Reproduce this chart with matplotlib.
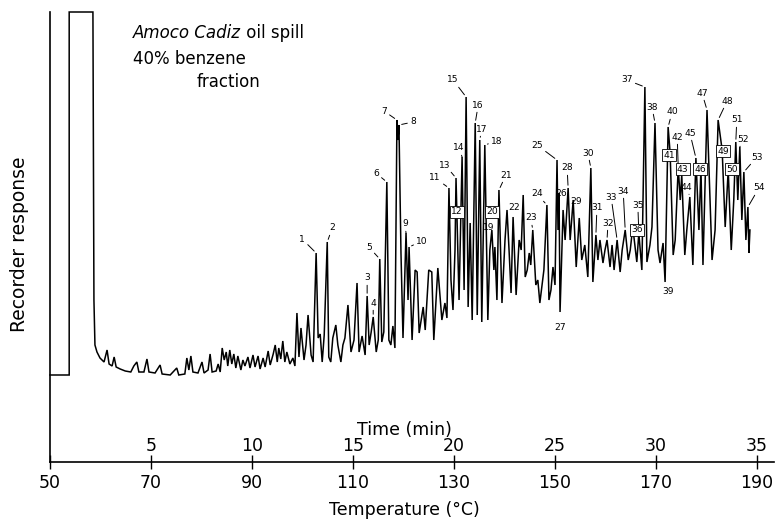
import matplotlib
matplotlib.use("Agg")
import matplotlib.pyplot as plt
from matplotlib.transforms import blended_transform_factory

# Gas chromatogram trace: oven temperature (deg C) and recorder response (arbitrary units)
temperature_c = [
    50.0, 53.8, 53.8, 58.3, 58.5, 58.7, 58.9, 59.3, 59.9, 60.7, 61.3, 61.7, 62.3, 62.7, 63.1,
    63.9, 64.9, 66.0, 66.6, 67.2, 67.6, 68.6, 69.2, 69.6, 70.8, 71.8, 72.2, 73.8, 75.1, 75.5,
    76.7, 77.1, 77.5, 77.9, 78.3, 79.3, 80.1, 80.5, 81.3, 81.7, 82.1, 82.9, 83.3, 83.7, 84.1,
    84.5, 84.9, 85.2, 85.6, 86.0, 86.4, 86.8, 87.2, 87.8, 88.2, 88.6, 89.2, 89.6, 90.2, 90.6,
    91.2, 91.6, 92.2, 92.6, 93.2, 93.6, 94.2, 94.6, 95.0, 95.3, 95.7, 96.1, 96.5, 96.9, 97.5,
    98.1, 98.5, 98.9, 99.3, 99.7, 100.3, 100.7, 101.1, 101.7, 102.1, 102.7, 103.1, 103.5, 103.9,
    104.3, 104.9, 105.2, 105.6, 106.0, 106.6, 107.0, 107.6, 108.0, 108.4, 109.0, 109.6, 110.2,
    110.8, 111.2, 111.8, 112.4, 112.8, 113.2, 113.6, 114.0, 114.6, 115.0, 115.3, 115.7, 116.1,
    116.7, 117.1, 117.5, 117.9, 118.3, 118.7, 118.9, 119.1, 119.5, 119.9, 120.5, 120.9, 121.1,
    121.7, 122.3, 122.7, 123.1, 123.9, 124.3, 125.0, 125.6, 126.0, 126.8, 127.6, 128.2, 128.6,
    129.0, 129.4, 129.8, 130.2, 130.4, 131.0, 131.6, 132.0, 132.4, 132.8, 133.2, 133.6, 134.2,
    134.6, 135.1, 135.5, 136.1, 136.7, 137.1, 137.5, 137.9, 138.1, 138.5, 138.9, 139.5, 140.1,
    140.5, 140.9, 141.3, 141.7, 142.3, 142.9, 143.3, 143.7, 144.1, 144.5, 144.9, 145.2, 145.6,
    146.2, 146.6, 147.0, 147.8, 148.4, 148.8, 149.2, 149.6, 150.0, 150.4, 150.6, 150.8, 151.0,
    151.6, 152.0, 152.6, 153.0, 153.6, 154.2, 154.8, 155.3, 155.9, 156.5, 157.1, 157.5, 158.1,
    158.5, 158.9, 159.5, 159.9, 160.3, 160.9, 161.3, 161.7, 162.3, 162.9, 163.3, 163.9, 164.5,
    164.9, 165.4, 166.2, 166.6, 167.2, 167.8, 168.2, 168.8, 169.2, 169.8, 170.4, 170.8, 171.4,
    171.8, 172.4, 172.8, 173.4, 173.8, 174.4, 174.8, 175.1, 175.7, 176.1, 176.7, 177.3, 177.9,
    178.5, 178.9, 179.3, 180.1, 181.1, 181.7, 182.3, 183.1, 183.7, 184.3, 184.9, 185.4, 185.8,
    186.2, 186.6, 187.0, 187.4, 187.8, 188.2, 188.4, 188.6,
]
response = [
    87, 87, 450, 450, 450, 162, 117, 110, 104, 100, 112, 98, 96, 105, 95,
    93, 91, 90, 96, 100, 90, 90, 103, 90, 89, 97, 88, 87, 94, 87,
    88, 104, 92, 106, 90, 89, 100, 89, 92, 108, 90, 91, 98, 90, 114,
    102, 110, 96, 112, 98, 108, 94, 106, 92, 102, 96, 105, 94, 107, 95,
    106, 93, 104, 95, 111, 97, 108, 117, 100, 114, 103, 121, 100, 110, 98,
    104, 96, 149, 105, 134, 102, 117, 147, 107, 100, 209, 124, 128, 100,
    127, 220, 105, 100, 124, 137, 117, 100, 117, 124, 157, 110, 122,
    179, 110, 126, 107, 166, 117, 130, 145, 110, 122, 203, 120, 130,
    280, 122, 117, 136, 114, 342, 322, 337, 209, 124, 229, 162, 215,
    122, 192, 190, 129, 155, 132, 192, 190, 122, 194, 142, 159, 144,
    274, 182, 152, 212, 284, 162, 305, 172, 365, 155, 239, 142, 339,
    147, 322, 140, 317, 142, 212, 232, 192, 215, 162, 272, 159, 222,
    252, 212, 169, 245, 167, 222, 212, 267, 185, 192, 209, 197, 232,
    177, 182, 159, 192, 257, 162, 172, 195, 177, 302, 232, 269, 150,
    252, 222, 274, 222, 262, 195, 244, 202, 217, 185, 294, 180, 227,
    202, 222, 199, 212, 222, 195, 217, 192, 222, 190, 212, 232, 202,
    212, 235, 200, 229, 192, 375, 200, 217, 235, 339, 212, 199, 219,
    180, 335, 309, 207, 222, 295, 262, 287, 207, 232, 265, 197, 304,
    232, 294, 197, 352, 202, 232, 342, 312, 235, 292, 212, 262, 320,
    262, 315, 242, 290, 222, 255, 209, 232,
]

# Numbered components: retention temperature (deg C) and response at the marked apex
peak_number = list(range(1, 55))
peak_temp = [
    102.7, 104.9, 112.8, 114.0, 115.3, 116.7, 118.7, 119.1, 120.5, 121.1,
    129.0, 130.2, 130.4, 131.6, 132.4, 134.2, 135.1, 136.1, 137.1, 137.5,
    138.9, 141.7, 145.6, 148.4, 150.4, 150.8, 151.0, 152.6, 153.6, 157.1,
    158.1, 160.3, 162.3, 163.9, 166.6, 165.4, 167.8, 169.8, 171.8, 172.4,
    172.8, 174.4, 175.1, 176.7, 177.9, 178.9, 180.1, 182.3, 183.1, 184.3,
    185.8, 186.6, 187.4, 188.2,
]
peak_resp = [
    209, 220, 166, 145, 203, 280, 342, 337, 229, 215,
    274, 212, 284, 305, 365, 339, 322, 317, 212, 232,
    272, 245, 232, 257, 302, 269, 150, 274, 262, 294,
    227, 222, 222, 232, 229, 235, 375, 339, 180, 335,
    309, 295, 287, 265, 304, 294, 352, 342, 312, 292,
    320, 315, 290, 255,
]

temp_ticks = [50, 70, 90, 110, 130, 150, 170, 190]
time_ticks_min = [5, 10, 15, 20, 25, 30, 35]
start_temp_c = 50
ramp_c_per_min = 4

# Label placement: offset of each number from its apex (pixels) and how it is drawn
label_layout = [
    (-14, 14, "lead"), (5, 14, "lead"), (0, 18, "lead"), (0, 14, "lead"), (-11, 12, "lead"),
    (-11, 9, "lead"), (-13, 9, "lead"), (14, 3, "lead"), (-1, 9, "lead"), (13, 6, "lead"),
    (-14, 10, "lead"), (2, 38, "box"), (-11, 13, "lead"), (-3, 9, "lead"), (-13, 17, "lead"),
    (3, 18, "lead"), (2, 11, "lead"), (12, 4, "lead"), (-1, 22, "plain"), (0, 18, "box"),
    (7, 15, "lead"), (1, 10, "plain"), (-2, 12, "lead"), (-10, 11, "lead"), (-20, 15, "lead"),
    (2, 0, "plain"), (0, -15, "plain"), (-1, 20, "lead"), (3, -2, "plain"), (-3, 15, "lead"),
    (1, 27, "lead"), (1, 17, "lead"), (-6, 43, "lead"), (-2, 39, "lead"), (-1, 28, "lead"),
    (4, -3, "box"), (-18, 7, "lead"), (-3, 16, "lead"), (3, -10, "plain"), (4, 15, "lead"),
    (-1, -2, "box"), (-1, 30, "lead"), (1, 6, "box"), (-3, 10, "lead"), (-6, 25, "lead"),
    (-1, -1, "box"), (-5, 17, "lead"), (9, 19, "lead"), (1, -1, "box"), (4, 1, "box"),
    (1, 22, "lead"), (3, 8, "lead"), (13, 15, "lead"), (11, 19, "lead"),
]

plt.rcParams["font.family"] = ["DejaVu Sans"]
fig = plt.figure(figsize=(7.76, 5.26), dpi=100)
W, H = 776, 526
ax = fig.add_axes([50 / W, 1 - 462 / H, 724 / W, 450 / H])
ax.set_xlim(50, 50 + 724 / 5.05)
ax.set_ylim(0, 450)

ax.plot(temperature_c, response, color="black", lw=1.1, clip_on=False,
        solid_joinstyle="miter")

for num, t, r, (dx, dy, style) in zip(peak_number, peak_temp, peak_resp, label_layout):
    kw = dict(xy=(t, r), xytext=(dx, dy), textcoords="offset pixels",
              ha="center", va="center", fontsize=6.6, color="black", zorder=5)
    if style == "lead":
        kw["arrowprops"] = dict(arrowstyle="-", lw=0.7, color="black",
                                shrinkA=0, shrinkB=2)
    elif style == "box":
        kw["bbox"] = dict(boxstyle="square,pad=0.15", fc="white", ec="black", lw=0.6)
    ax.annotate(str(num), **kw)

for side in ("top", "right"):
    ax.spines[side].set_visible(False)
ax.spines["left"].set_linewidth(1.2)
ax.spines["bottom"].set_linewidth(1.2)
ax.set_yticks([])
ax.set_xticks(temp_ticks)
ax.set_xticklabels([str(t) for t in temp_ticks])
ax.tick_params(axis="x", direction="inout", length=10, width=1.0,
               labelsize=12.5, pad=4)

# Elapsed-time scale above the temperature axis
trans = blended_transform_factory(ax.transData, ax.transAxes)
for m in time_ticks_min:
    ax.annotate(str(m), xy=(start_temp_c + ramp_c_per_min * m, 0),
                xycoords=trans, xytext=(0, 7), textcoords="offset pixels",
                ha="center", va="bottom", fontsize=12.5)

fig.text(404 / W, 1 - 430 / H, "Time (min)", ha="center", va="center", fontsize=12.5)
fig.text(404 / W, 1 - 510 / H, "Temperature (°C)", ha="center", va="center", fontsize=12.5)
fig.text(20 / W, 1 - 244 / H, "Recorder response", rotation=90,
         ha="center", va="center", fontsize=13.5)

t1 = fig.text(133 / W, 1 - 33 / H, "Amoco Cadiz", style="italic",
              ha="left", va="center", fontsize=12)
ax.annotate(" oil spill", xy=(1, 0), xycoords=t1, ha="left", va="bottom",
            fontsize=12)
fig.text(133 / W, 1 - 59 / H, "40% benzene", ha="left", va="center", fontsize=12)
fig.text(197 / W, 1 - 82 / H, "fraction", ha="left", va="center", fontsize=12)

fig.savefig("out.png", dpi=100)
